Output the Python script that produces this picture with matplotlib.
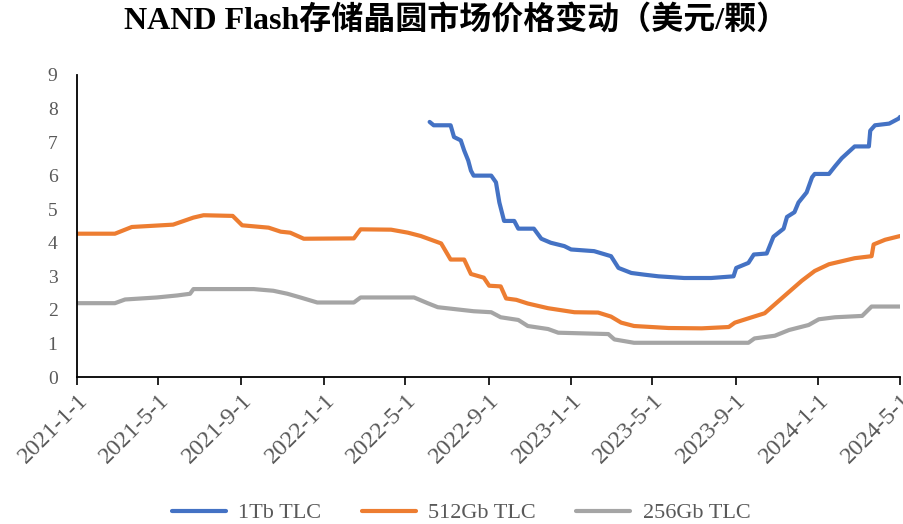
import pandas as pd
import matplotlib

matplotlib.use("Agg")
import matplotlib.pyplot as plt

plt.rcParams["font.family"] = ["Liberation Serif", "Noto Sans CJK SC", "DejaVu Sans"]

# 1Tb TLC 合约价格（美元/颗）
tb1_dates = ["2022-06-06", "2022-06-12", "2022-07-07", "2022-07-12", "2022-07-22", "2022-07-27",
             "2022-08-02", "2022-08-06", "2022-08-10", "2022-09-05", "2022-09-12", "2022-09-17",
             "2022-09-24", "2022-10-09", "2022-10-15", "2022-11-07", "2022-11-18", "2022-12-02",
             "2022-12-22", "2023-01-01", "2023-02-04", "2023-03-01", "2023-03-12", "2023-03-31",
             "2023-04-19", "2023-05-10", "2023-06-17", "2023-07-27", "2023-08-29", "2023-09-02",
             "2023-09-20", "2023-09-28", "2023-10-17", "2023-10-27", "2023-11-11", "2023-11-16",
             "2023-11-27", "2023-12-03", "2023-12-15", "2023-12-23", "2023-12-27", "2024-01-17",
             "2024-01-26", "2024-02-05", "2024-02-24", "2024-03-16", "2024-03-18", "2024-03-25",
             "2024-04-15", "2024-04-29", "2024-05-01"]
tb1_values = [7.6, 7.5, 7.5, 7.15, 7.05, 6.75,
              6.45, 6.15, 6.0, 6.0, 5.8, 5.2,
              4.65, 4.65, 4.42, 4.42, 4.12, 4.0,
              3.9, 3.8, 3.75, 3.6, 3.25, 3.1,
              3.05, 3.0, 2.95, 2.95, 3.0, 3.25,
              3.4, 3.65, 3.68, 4.18, 4.42, 4.77,
              4.91, 5.2, 5.5, 5.95, 6.05, 6.05,
              6.28, 6.52, 6.87, 6.87, 7.34, 7.5,
              7.55, 7.7, 7.75]

# 512Gb TLC
gb512_dates = ["2021-01-01", "2021-02-26", "2021-03-23", "2021-05-23", "2021-06-22", "2021-07-07",
               "2021-08-19", "2021-09-02", "2021-10-11", "2021-10-29", "2021-11-12", "2021-12-02",
               "2022-02-14", "2022-02-24", "2022-04-10", "2022-05-05", "2022-05-24", "2022-06-23",
               "2022-07-07", "2022-07-27", "2022-08-06", "2022-08-25", "2022-09-02", "2022-09-19",
               "2022-09-27", "2022-10-12", "2022-10-29", "2022-11-28", "2023-01-06", "2023-02-10",
               "2023-03-01", "2023-03-16", "2023-04-04", "2023-05-25", "2023-07-13", "2023-08-22",
               "2023-08-31", "2023-09-25", "2023-10-14", "2023-11-13", "2023-12-08", "2023-12-27",
               "2024-01-17", "2024-02-24", "2024-03-20", "2024-03-23", "2024-04-09", "2024-05-01"]
gb512_values = [4.27, 4.27, 4.47, 4.54, 4.75, 4.82,
                4.8, 4.52, 4.45, 4.33, 4.3, 4.12,
                4.13, 4.4, 4.39, 4.3, 4.2, 3.98,
                3.5, 3.5, 3.07, 2.96, 2.72, 2.7,
                2.34, 2.3, 2.19, 2.05, 1.93, 1.92,
                1.8, 1.62, 1.52, 1.46, 1.45, 1.49,
                1.62, 1.78, 1.9, 2.43, 2.87, 3.16,
                3.36, 3.54, 3.6, 3.95, 4.09, 4.2]

# 256Gb TLC
gb256_dates = ["2021-01-01", "2021-02-26", "2021-03-13", "2021-04-29", "2021-05-29", "2021-06-17",
               "2021-06-22", "2021-09-19", "2021-10-18", "2021-11-08", "2021-11-27", "2021-12-22",
               "2022-02-14", "2022-02-24", "2022-05-14", "2022-06-03", "2022-06-18", "2022-08-10",
               "2022-09-05", "2022-09-19", "2022-10-15", "2022-10-29", "2022-11-28", "2022-12-13",
               "2023-02-25", "2023-03-06", "2023-04-04", "2023-09-20", "2023-09-29", "2023-10-29",
               "2023-11-19", "2023-12-18", "2024-01-02", "2024-01-26", "2024-03-06", "2024-03-20",
               "2024-05-01"]
gb256_values = [2.2, 2.2, 2.31, 2.37, 2.43, 2.48,
                2.62, 2.62, 2.57, 2.48, 2.37, 2.22,
                2.22, 2.37, 2.37, 2.2, 2.08, 1.96,
                1.93, 1.78, 1.7, 1.52, 1.43, 1.32,
                1.28, 1.12, 1.02, 1.02, 1.15, 1.23,
                1.4, 1.55, 1.72, 1.78, 1.82, 2.1,
                2.1]

tick_dates = ["2021-1-1", "2021-5-1", "2021-9-1", "2022-1-1", "2022-5-1", "2022-9-1",
              "2023-1-1", "2023-5-1", "2023-9-1", "2024-1-1", "2024-5-1"]

series = [
    ("1Tb TLC", tb1_dates, tb1_values, "#4472C4"),
    ("512Gb TLC", gb512_dates, gb512_values, "#ED7D31"),
    ("256Gb TLC", gb256_dates, gb256_values, "#A5A5A5"),
]

fig = plt.figure(figsize=(9.04, 5.24), dpi=100)
ax = fig.add_axes([0.0852, 0.2805, 0.9104, 0.5765])

for name, d, v, c in series:
    ax.plot(pd.to_datetime(d), v, color=c, linewidth=3, label=name,
            solid_capstyle="round", solid_joinstyle="round")

ticks = pd.to_datetime(tick_dates)
ax.set_xlim(ticks[0], ticks[-1])
ax.set_ylim(0, 9)
ax.set_xticks(ticks)
ax.set_xticklabels(tick_dates, rotation=45, ha="right", rotation_mode="anchor")
ax.set_yticks(range(0, 10))

for s in ["top", "right"]:
    ax.spines[s].set_visible(False)
for s in ["left", "bottom"]:
    ax.spines[s].set_linewidth(1.3)
    ax.spines[s].set_color("black")

ax.tick_params(axis="x", length=6, width=1.2, colors="black", labelcolor="#595959",
               labelsize=17.5, pad=3)
ax.tick_params(axis="y", length=0, labelcolor="#595959", labelsize=14, pad=14)

fig.suptitle("NAND Flash存储晶圆市场价格变动（美元/颗）", fontsize=23, fontweight="bold",
             y=0.99, x=0.505)

fig.legend(loc="lower center", bbox_to_anchor=(0.51, -0.037), ncol=3, frameon=False,
           fontsize=16, handlelength=2.45, columnspacing=1.8, handletextpad=0.55,
           labelcolor="#595959")

fig.savefig("out.png", dpi=100)
